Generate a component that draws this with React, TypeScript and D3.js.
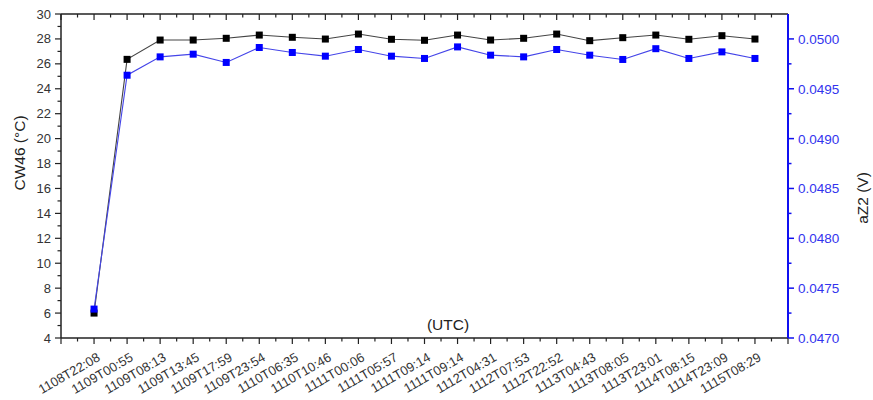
import React, { useEffect, useRef } from 'react';
import * as d3 from 'd3';

const timeLabels = [
  '1108T22:08', '1109T00:55', '1109T08:13', '1109T13:45', '1109T17:59', '1109T23:54',
  '1110T06:35', '1110T10:46', '1111T00:06', '1111T05:57', '1111T09:14', '1111T09:14',
  '1112T04:31', '1112T07:53', '1112T22:52', '1113T04:43', '1113T08:05', '1113T23:01',
  '1114T08:15', '1114T23:09', '1115T08:29',
];

const cw46 = [
  6.0, 26.36, 27.91, 27.91, 28.05, 28.31, 28.13, 27.99, 28.39, 27.97, 27.89,
  28.31, 27.91, 28.05, 28.39, 27.86, 28.10, 28.31, 27.97, 28.26, 27.99,
];

const az2 = [
  0.04729, 0.049636, 0.04982, 0.049847, 0.049764, 0.049914, 0.049864, 0.049827, 0.049894,
  0.049827, 0.049804, 0.04992, 0.049837, 0.04982, 0.049894, 0.049837, 0.049794, 0.049902,
  0.049804, 0.04987, 0.049804,
];

const leftTicks = [4, 6, 8, 10, 12, 14, 16, 18, 20, 22, 24, 26, 28, 30];
const rightTicks = [0.047, 0.0475, 0.048, 0.0485, 0.049, 0.0495, 0.05];

export default function App() {
  const ref = useRef<SVGSVGElement | null>(null);

  useEffect(() => {
    const svgEl = ref.current;
    if (!svgEl) return;
    const width = 873;
    const height = 400;
    const margin = { top: 14, right: 85, bottom: 62, left: 61 };
    const font = 'Arial, "Liberation Sans", sans-serif';
    const blue = '#1010f0';

    const svg = d3.select(svgEl);
    svg.selectAll('*').remove();

    const x = d3.scaleLinear()
      .domain([-1, timeLabels.length])
      .range([margin.left, width - margin.right]);
    const y = d3.scaleLinear().domain([4, 30]).range([height - margin.bottom, margin.top]);
    const y2 = d3.scaleLinear().domain([0.047, 0.05025]).range([height - margin.bottom, margin.top]);

    const idx = d3.range(-1, timeLabels.length + 1);
    const minorX = d3.range(-0.5, timeLabels.length, 1);
    const minorY = d3.range(5, 30, 2);
    const minorY2 = [0.04725, 0.04775, 0.04825, 0.04875, 0.04925, 0.04975];

    const top = margin.top;
    const bottom = height - margin.bottom;
    const left = margin.left;
    const right = width - margin.right;

    // frame lines
    const g = svg.append('g');
    g.append('line').attr('x1', left).attr('x2', right).attr('y1', top).attr('y2', top)
      .attr('stroke', '#222').attr('stroke-width', 1.5);
    g.append('line').attr('x1', left).attr('x2', right).attr('y1', bottom).attr('y2', bottom)
      .attr('stroke', '#222').attr('stroke-width', 1.5);
    g.append('line').attr('x1', left).attr('x2', left).attr('y1', top).attr('y2', bottom)
      .attr('stroke', '#222').attr('stroke-width', 1.5);

    // x ticks bottom (outward) and top (inward)
    g.selectAll('.xb').data(idx).join('line')
      .attr('x1', d => x(d)).attr('x2', d => x(d))
      .attr('y1', bottom).attr('y2', bottom + 6)
      .attr('stroke', '#222').attr('stroke-width', 1.2);
    g.selectAll('.xbm').data(minorX).join('line')
      .attr('x1', d => x(d)).attr('x2', d => x(d))
      .attr('y1', bottom).attr('y2', bottom + 3.5)
      .attr('stroke', '#222').attr('stroke-width', 1.2);
    g.selectAll('.xt').data(idx).join('line')
      .attr('x1', d => x(d)).attr('x2', d => x(d))
      .attr('y1', top).attr('y2', top + 6)
      .attr('stroke', '#222').attr('stroke-width', 1.2);
    g.selectAll('.xtm').data(minorX).join('line')
      .attr('x1', d => x(d)).attr('x2', d => x(d))
      .attr('y1', top).attr('y2', top + 3.5)
      .attr('stroke', '#222').attr('stroke-width', 1.2);

    // x tick labels
    g.selectAll('.xl').data(timeLabels).join('text')
      .attr('transform', (d, i) => `translate(${x(i) + 7},${bottom + 22}) rotate(-30)`)
      .attr('text-anchor', 'end')
      .attr('font-family', font).attr('font-size', 13).attr('fill', '#333')
      .text(d => d);

    // left axis ticks
    g.selectAll('.yl').data(leftTicks).join('line')
      .attr('x1', left - 6).attr('x2', left)
      .attr('y1', d => y(d)).attr('y2', d => y(d))
      .attr('stroke', '#222').attr('stroke-width', 1.2);
    g.selectAll('.ylm').data(minorY).join('line')
      .attr('x1', left - 3.5).attr('x2', left)
      .attr('y1', d => y(d)).attr('y2', d => y(d))
      .attr('stroke', '#222').attr('stroke-width', 1.2);
    g.selectAll('.ylt').data(leftTicks).join('text')
      .attr('x', left - 10).attr('y', d => y(d) + 4.5)
      .attr('text-anchor', 'end')
      .attr('font-family', font).attr('font-size', 13).attr('fill', '#333')
      .text(d => d);

    // right axis
    g.append('line').attr('x1', right).attr('x2', right).attr('y1', top).attr('y2', bottom)
      .attr('stroke', blue).attr('stroke-width', 2);
    g.selectAll('.yr').data(rightTicks).join('line')
      .attr('x1', right).attr('x2', right + 6)
      .attr('y1', d => y2(d)).attr('y2', d => y2(d))
      .attr('stroke', blue).attr('stroke-width', 1.5);
    g.selectAll('.yrm').data(minorY2).join('line')
      .attr('x1', right).attr('x2', right + 3.5)
      .attr('y1', d => y2(d)).attr('y2', d => y2(d))
      .attr('stroke', blue).attr('stroke-width', 1.5);
    g.selectAll('.yrt').data(rightTicks).join('text')
      .attr('x', right + 10).attr('y', d => y2(d) + 5)
      .attr('font-family', font).attr('font-size', 13.5).attr('fill', '#3333ee')
      .text(d => d3.format('.4f')(d));

    // axis titles
    g.append('text')
      .attr('transform', `translate(25,153) rotate(-90)`)
      .attr('text-anchor', 'middle')
      .attr('font-family', font).attr('font-size', 15.5).attr('fill', '#222')
      .text('CW46 (°C)');
    g.append('text')
      .attr('transform', `translate(868,198) rotate(-90)`)
      .attr('text-anchor', 'middle')
      .attr('font-family', font).attr('font-size', 15.5).attr('fill', '#222')
      .text('aZ2 (V)');
    g.append('text')
      .attr('x', 448).attr('y', 330)
      .attr('text-anchor', 'middle')
      .attr('font-family', font).attr('font-size', 15.5).attr('fill', '#222')
      .text('(UTC)');

    // series
    const lineL = d3.line<number>().x((d, i) => x(i)).y(d => y(d));
    const lineR = d3.line<number>().x((d, i) => x(i)).y(d => y2(d));

    svg.append('path').datum(cw46).attr('d', lineL)
      .attr('fill', 'none').attr('stroke', '#444').attr('stroke-width', 1.1);
    svg.append('g').selectAll('rect').data(cw46).join('rect')
      .attr('x', (d, i) => x(i) - 3.5).attr('y', d => y(d) - 3.5)
      .attr('width', 7).attr('height', 7).attr('fill', '#000');

    svg.append('path').datum(az2).attr('d', lineR)
      .attr('fill', 'none').attr('stroke', '#4545e8').attr('stroke-width', 1.1);
    svg.append('g').selectAll('rect').data(az2).join('rect')
      .attr('x', (d, i) => x(i) - 3.5).attr('y', d => y2(d) - 3.5)
      .attr('width', 7).attr('height', 7).attr('fill', '#0000ff');
  }, []);

  return (
    <div style={{ position: 'absolute', left: 0, top: 0, background: '#fff' }}>
      <svg ref={ref} width={873} height={400} />
    </div>
  );
}
